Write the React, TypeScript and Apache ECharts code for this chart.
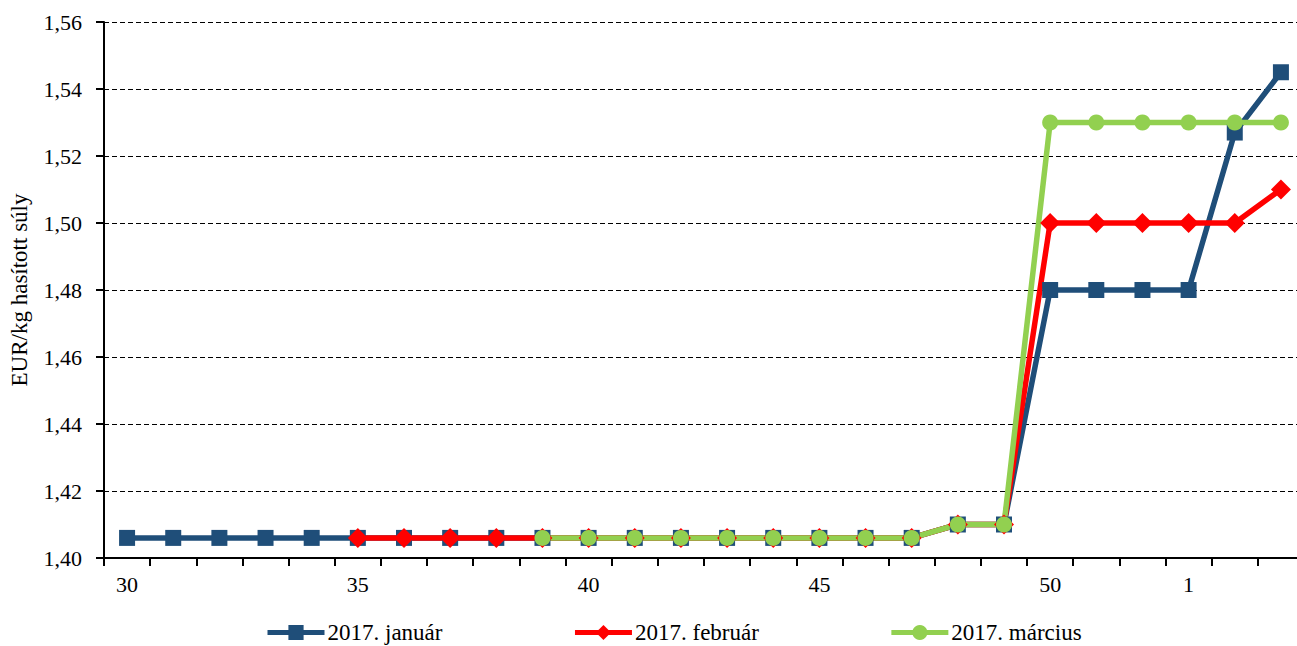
import React, { useEffect, useRef } from "react";
import * as echarts from "echarts";

const weeks: string[] = [
  "30", "31", "32", "33", "34", "35", "36", "37", "38", "39", "40", "41", "42",
  "43", "44", "45", "46", "47", "48", "49", "50", "51", "52", "1", "2", "3",
];
const shownWeekLabels: string[] = ["30", "35", "40", "45", "50", "1"];
const yTicks: number[] = [1.4, 1.42, 1.44, 1.46, 1.48, 1.5, 1.52, 1.54, 1.56];

const januar: (number | null)[] = [
  1.406, 1.406, 1.406, 1.406, 1.406, 1.406, 1.406, 1.406, 1.406, 1.406, 1.406,
  1.406, 1.406, 1.406, 1.406, 1.406, 1.406, 1.406, 1.41, 1.41, 1.48, 1.48, 1.48,
  1.48, 1.527, 1.545,
];
const februar: (number | null)[] = [
  null, null, null, null, null, 1.406, 1.406, 1.406, 1.406, 1.406, 1.406, 1.406,
  1.406, 1.406, 1.406, 1.406, 1.406, 1.406, 1.41, 1.41, 1.5, 1.5, 1.5, 1.5, 1.5,
  1.51,
];
const marcius: (number | null)[] = [
  null, null, null, null, null, null, null, null, null, 1.406, 1.406, 1.406,
  1.406, 1.406, 1.406, 1.406, 1.406, 1.406, 1.41, 1.41, 1.53, 1.53, 1.53, 1.53,
  1.53, 1.53,
];

const FONT = "Liberation Serif, serif";

export default function App() {
  const ref = useRef<HTMLDivElement>(null);
  useEffect(() => {
    document.body.style.margin = "0";
    const chart = echarts.init(ref.current!, null, { renderer: "svg" });
    const mk = (
      name: string,
      data: (number | null)[],
      color: string,
      symbol: string,
      size: number
    ) => ({
      name,
      type: "line",
      data,
      symbol,
      symbolSize: size,
      showAllSymbol: true,
      connectNulls: false,
      lineStyle: { color, width: 5.5 },
      itemStyle: { color, borderWidth: 0 },
      emphasis: { disabled: true },
    });
    chart.setOption({
      animation: false,
      textStyle: { fontFamily: FONT, color: "#000" },
      grid: {
        left: 104,
        width: 1200,
        top: 22,
        bottom: 88,
        containLabel: false,
        outerBoundsMode: "none",
      },
      legend: {
        left: 265,
        top: 621,
        padding: 0,
        itemWidth: 57,
        itemHeight: 19,
        itemGap: 130,
        lineStyle: { width: 5 },
        textStyle: { fontFamily: FONT, fontSize: 23, color: "#000", padding: [0, 0, 0, -2] },
        data: ["2017. január", "2017. február", "2017. március"],
      },
      xAxis: {
        type: "category",
        data: weeks,
        boundaryGap: true,
        axisLine: { lineStyle: { color: "#000", width: 2 } },
        axisTick: { show: true, interval: 0, length: 8, lineStyle: { color: "#000", width: 2 } },
        axisLabel: {
          interval: (i: number, v: string) => shownWeekLabels.includes(v) && !(v === "1" && i !== 23),
          fontFamily: FONT,
          fontSize: 22,
          color: "#000",
          margin: 15,
        },
        splitLine: { show: false },
      },
      yAxis: {
        type: "value",
        min: yTicks[0],
        max: yTicks[yTicks.length - 1],
        interval: 0.02,
        name: "EUR/kg hasított súly",
        nameLocation: "middle",
        nameGap: 73,
        nameTextStyle: { fontFamily: FONT, fontSize: 23, color: "#000" },
        axisLine: { show: true, lineStyle: { color: "#000", width: 2 } },
        axisTick: { show: true, length: 8, lineStyle: { color: "#000", width: 2 } },
        axisLabel: {
          fontFamily: FONT,
          fontSize: 22,
          color: "#000",
          margin: 22,
          formatter: (v: number) => v.toFixed(2).replace(".", ","),
        },
        splitLine: { show: true, lineStyle: { color: "#000", width: 1, type: [5, 3] } },
      },
      series: [
        mk("2017. január", januar, "#1f4e79", "rect", 16),
        mk("2017. február", februar, "#ff0000", "diamond", 20),
        mk("2017. március", marcius, "#92d050", "circle", 16),
      ],
    });
    return () => chart.dispose();
  }, []);
  return <div ref={ref} style={{ width: 1297, height: 646 }} />;
}
